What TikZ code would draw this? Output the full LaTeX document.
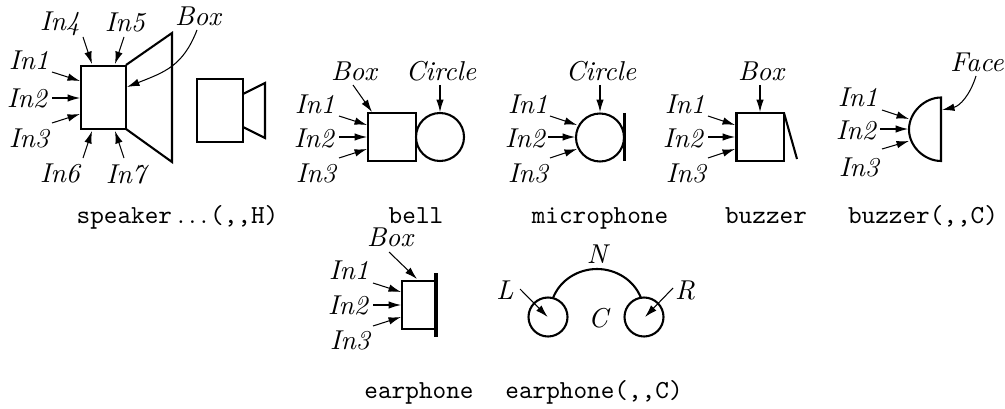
\documentclass[tikz,border=0pt]{standalone}
\usetikzlibrary{arrows.meta}
\tikzset{
  arr/.style={-{Latex[length=4.8pt,width=2.9pt]},line width=0.4pt},
  shp/.style={line width=0.8pt},
  lbl/.style={font=\fontsize{10.5}{12}\selectfont\itshape,inner sep=0pt,anchor=center},
  captxt/.style={font=\ttfamily,inner sep=0pt,anchor=base}
}
\newcommand{\conn}[3]{\coordinate (#1s) at (#2); \coordinate (#1e) at (#3); \draw[arr] (#1s) -- (#1e);}
\begin{document}
\begin{tikzpicture}[x=0.385pt,y=-0.385pt]
\useasboundingbox (0,0) rectangle (1005,408);
% speaker
\draw[shp] (81,66) rectangle (126,129);
\draw[shp] (126,65) -- (172,33) -- (172,162) -- (126,129);
\draw[shp] (197,79) rectangle (243,142);
\draw[shp] (243,94) -- (265,83) -- (265,138) -- (243,127);
\node[lbl] (a1) at (29,60) {In1};
\node[lbl] (a2) at (27,98) {In2};
\node[lbl] (a3) at (29,138) {In3};
\node[lbl] (a4) at (60,24) {In4};
\node[lbl] (a5) at (125,22) {In5};
\node[lbl] (a6) at (60,173) {In6};
\node[lbl] (a7) at (126,174) {In7};
\node[lbl] (a8) at (198,16) {Box};
\conn{pa}{52,72}{80,81}
\conn{pb}{52,98}{80,98}
\conn{pc}{52,123}{80,114}
\conn{pd}{83,37}{92,64}
\conn{pe}{124,37}{115,64}
\conn{pf}{83,158}{92,131}
\conn{pg}{124,158}{115,131}
\coordinate (phs) at (197,30); \coordinate (phe) at (127,87);
\draw[arr] (phs) .. controls (183,66) and (165,72) .. (phe);
\node[captxt] (c1) at (177.5,223) {speaker\hspace{2pt}$\ldots$\hspace{1pt}(,,H)};
% bell
\draw[shp] (368,113) rectangle (416,161);
\draw[shp] (440,137) circle (24);
\node[lbl] (b1) at (315,104) {In1};
\node[lbl] (b2) at (314,138) {In2};
\node[lbl] (b3) at (316,173) {In3};
\node[lbl] (b4) at (354,71) {Box};
\node[lbl] (b5) at (441,71) {Circle};
\conn{qa}{339,116}{367,125}
\conn{qb}{339,137}{367,137}
\conn{qc}{339,158}{367,149}
\conn{qd}{353,85}{372,112}
\conn{qe}{440,85}{440,112}
\node[captxt] (c2) at (416,223) {bell};
% microphone
\draw[shp] (600,137.5) circle (24);
\draw[shp] (624.5,113) -- (624.5,161);
\node[lbl] (m1) at (528,104) {In1};
\node[lbl] (m2) at (525,138) {In2};
\node[lbl] (m3) at (528,173) {In3};
\node[lbl] (m4) at (601,71) {Circle};
\conn{ra}{550,116}{577,125}
\conn{rb}{548,137}{575,137}
\conn{rc}{550,158}{577,149}
\conn{rd}{600,85}{600,112}
\node[captxt] (c3) at (600,223) {microphone};
% buzzer
\draw[shp] (736.5,113) rectangle (784,161);
\draw[shp] (784,113) -- (797,159);
\node[lbl] (z1) at (685,104) {In1};
\node[lbl] (z2) at (683,138) {In2};
\node[lbl] (z3) at (686,173) {In3};
\node[lbl] (z4) at (761,71) {Box};
\conn{sa}{708,116}{735,125}
\conn{sb}{708,137}{735,137}
\conn{sc}{708,158}{735,149}
\conn{sd}{760,85}{760,112}
\node[captxt] (c4) at (766,223) {buzzer};
% buzzer C
\draw[shp] (941,97.5) .. controls (925,97.5) and (909,112) .. (909,129.5) .. controls (909,147) and (925,161) .. (941,161) -- cycle;
\node[lbl] (y1) at (858,97) {In1};
\node[lbl] (y2) at (856,130) {In2};
\node[lbl] (y3) at (859,167) {In3};
\node[lbl] (y4) at (977,62) {Face};
\conn{ta}{882,110}{909,119}
\conn{tb}{880,129}{908,129}
\conn{tc}{882,149}{909,141}
\coordinate (tds) at (976,76); \coordinate (tde) at (942,110);
\draw[arr] (tds) .. controls (970,95) and (960,106) .. (tde);
\node[captxt] (c5) at (923,223) {buzzer(,,C)};
% earphone
\draw[shp] (402,281) rectangle (435,329);
\draw[line width=1.6pt] (436,273) -- (436,337);
\node[lbl] (e1) at (349,270) {In1};
\node[lbl] (e2) at (348,305) {In2};
\node[lbl] (e3) at (350,340) {In3};
\node[lbl] (e4) at (390,237) {Box};
\conn{ua}{373,283}{401,292}
\conn{ub}{373,305}{401,305}
\conn{uc}{373,326}{401,317}
\conn{ud}{389,252}{417,279}
\node[captxt] (c6) at (419,398) {earphone};
% earphone C
\draw[shp] (548,317) circle (19.5);
\draw[shp] (644,317) circle (19.5);
\draw[shp] (553,298) .. controls (560,280) and (578,269) .. (597,269) .. controls (616,269) and (634,280) .. (641,298);
\node[lbl] (f1) at (597,254) {N};
\node[lbl] (f2) at (598,318) {C};
\node[lbl] (f3) at (505,290) {L};
\node[lbl] (f4) at (685,290) {R};
\conn{va}{520,289}{547.7,317}
\conn{vb}{673,288}{645,317}
\node[captxt] (c7) at (594,398) {earphone(,,C)};
\end{tikzpicture}
\end{document}
